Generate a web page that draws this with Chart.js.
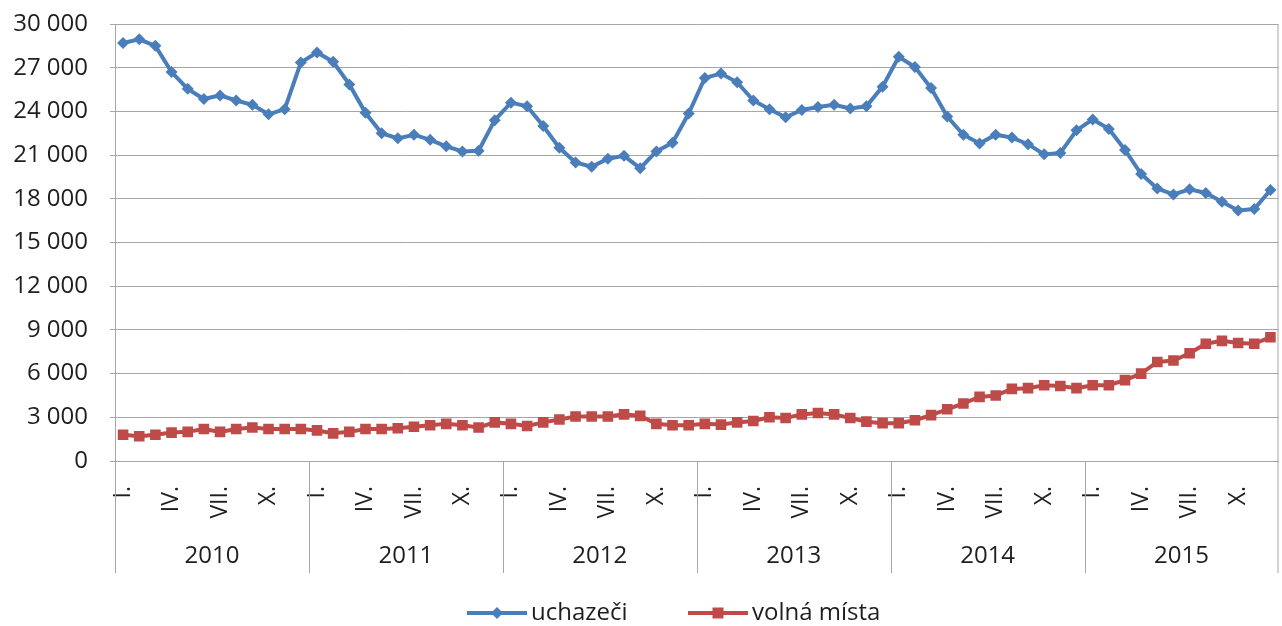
<!DOCTYPE html>
<html>
<head>
<meta charset="utf-8">
<script src="https://cdn.jsdelivr.net/npm/chart.js@4/dist/chart.umd.min.js"></script>
<style>
  html, body { margin: 0; padding: 0; background: #fff; overflow: hidden; }
  /* a few px wider than the window: the layout keeps a small right gap we can't switch off */
  #wrap { width: 1286px; height: 626px; position: relative; }
  #wrap canvas { display: block; }
</style>
</head>
<body>
<div id="wrap"><canvas id="chart"></canvas></div>
<script>
// monthly values 2010-2015
const years = ['2010', '2011', '2012', '2013', '2014', '2015'];
const monthTicks = ['I.', '', '', 'IV.', '', '', 'VII.', '', '', 'X.', '', ''];

const uchazeci = [
  28700, 28950, 28500, 26700, 25550, 24850, 25100, 24750, 24450, 23800, 24150, 27350,
  28050, 27400, 25850, 23900, 22500, 22150, 22400, 22050, 21600, 21250, 21300, 23400,
  24600, 24350, 23000, 21500, 20500, 20200, 20750, 20950, 20100, 21250, 21850, 23850,
  26300, 26600, 26000, 24750, 24150, 23600, 24100, 24300, 24450, 24200, 24350, 25700,
  27750, 27050, 25600, 23650, 22400, 21800, 22400, 22200, 21750, 21050, 21150, 22700,
  23450, 22800, 21350, 19700, 18700, 18300, 18650, 18400, 17800, 17200, 17300, 18600
];

const volnaMista = [
  1800, 1700, 1800, 1950, 2000, 2200, 2000, 2200, 2300, 2200, 2200, 2200,
  2100, 1900, 2000, 2200, 2200, 2250, 2350, 2450, 2550, 2450, 2300, 2650,
  2550, 2400, 2650, 2850, 3050, 3050, 3050, 3200, 3100, 2550, 2450, 2450,
  2550, 2500, 2650, 2750, 3000, 2950, 3200, 3300, 3200, 2950, 2700, 2600,
  2600, 2800, 3150, 3550, 3950, 4400, 4500, 4950, 5000, 5200, 5150, 5000,
  5200, 5200, 5550, 6000, 6800, 6900, 7400, 8050, 8250, 8100, 8050, 8500
];

const labels = years.flatMap(() => monthTicks);

const BLUE = '#4a7ebb';
const RED = '#be4b48';
const GRID = '#a6a6a6';
const TEXT = '#1e1e1e';
const FONT = '"Open Sans", "Noto Sans", sans-serif';

function fmt(v) {
  return String(v).replace(/\B(?=(\d{3})+(?!\d))/g, ' ');
}

// frame, year separators and year labels under the month ticks
const yearRow = {
  id: 'yearRow',
  afterDraw(chart) {
    const { ctx, chartArea } = chart;
    const x = chart.scales.x;
    const bottom = 573;
    ctx.save();
    ctx.strokeStyle = GRID;
    ctx.lineWidth = 1;
    ctx.beginPath();
    ctx.moveTo(chartArea.left + 0.5, chartArea.top);
    ctx.lineTo(chartArea.left + 0.5, bottom);
    ctx.moveTo(chartArea.right - 0.5, chartArea.top);
    ctx.lineTo(chartArea.right - 0.5, bottom);
    for (let k = 1; k < years.length; k++) {
      const bx = Math.round((x.getPixelForValue(12 * k - 1) + x.getPixelForValue(12 * k)) / 2) + 0.5;
      ctx.moveTo(bx, chartArea.bottom);
      ctx.lineTo(bx, bottom);
    }
    ctx.stroke();

    ctx.fillStyle = TEXT;
    ctx.font = '24px ' + FONT;
    ctx.textAlign = 'center';
    ctx.textBaseline = 'alphabetic';
    years.forEach((y, k) => {
      const cx = (x.getPixelForValue(12 * k + 5) + x.getPixelForValue(12 * k + 6)) / 2;
      ctx.fillText(y, cx, 563);
    });
    ctx.restore();
  }
};

// legend: line with marker, then the series name
const lineLegend = {
  id: 'lineLegend',
  afterDraw(chart) {
    const { ctx } = chart;
    const items = [
      { x: 467, textX: 531, shape: 'diamond' },
      { x: 688, textX: 752, shape: 'square' },
    ];
    const y = 613;
    ctx.save();
    chart.data.datasets.forEach((ds, i) => {
      const it = items[i];
      const cx = it.x + 30;
      ctx.strokeStyle = ds.borderColor;
      ctx.fillStyle = ds.borderColor;
      ctx.lineWidth = 4;
      ctx.beginPath();
      ctx.moveTo(it.x, y);
      ctx.lineTo(it.x + 60, y);
      ctx.stroke();
      ctx.beginPath();
      if (it.shape === 'diamond') {
        ctx.moveTo(cx, y - 6); ctx.lineTo(cx + 6, y); ctx.lineTo(cx, y + 6); ctx.lineTo(cx - 6, y);
      } else {
        ctx.rect(cx - 5.5, y - 5.5, 11, 11);
      }
      ctx.closePath();
      ctx.fill();
      ctx.fillStyle = TEXT;
      ctx.font = '24px ' + FONT;
      ctx.textAlign = 'left';
      ctx.textBaseline = 'alphabetic';
      ctx.fillText(ds.label, it.textX, 620);
    });
    ctx.restore();
  }
};

new Chart(document.getElementById('chart'), {
  type: 'line',
  data: {
    labels,
    datasets: [
      {
        label: 'uchazeči',
        data: uchazeci,
        borderColor: BLUE,
        backgroundColor: BLUE,
        borderWidth: 4,
        pointStyle: 'rectRot',
        pointRadius: 6,
        pointBorderWidth: 0,
        tension: 0,
      },
      {
        label: 'volná místa',
        data: volnaMista,
        borderColor: RED,
        backgroundColor: RED,
        borderWidth: 4,
        pointStyle: 'rect',
        pointRadius: 7.5,
        pointBorderWidth: 0,
        tension: 0,
      },
    ],
  },
  options: {
    responsive: true,
    maintainAspectRatio: false,
    animation: false,
    layout: { padding: { top: 24, right: 0, left: 0, bottom: 0 } },
    plugins: {
      tooltip: { enabled: false },
      legend: { display: false },
    },
    scales: {
      x: {
        offset: true,
        grid: { display: false },
        border: { display: true, color: GRID },
        ticks: {
          autoSkip: false,
          minRotation: 90,
          maxRotation: 90,
          padding: 17,
          color: TEXT,
          font: { family: FONT, size: 23 },
        },
        afterFit(scale) {
          scale.height = scale.chart.height - 461;
          scale.paddingLeft = 0;
          scale.paddingRight = 0;
        },
      },
      y: {
        min: 0,
        max: 30000,
        grid: { color: GRID, tickLength: 5 },
        border: { display: true, color: GRID },
        ticks: {
          stepSize: 3000,
          padding: 22,
          color: TEXT,
          font: { family: FONT, size: 24 },
          callback: v => fmt(v),
        },
        afterFit(scale) {
          scale.width = 115;
          scale.paddingTop = 0;
          scale.paddingBottom = 0;
        },
      },
    },
  },
  plugins: [yearRow, lineLegend],
});
</script>
</body>
</html>
